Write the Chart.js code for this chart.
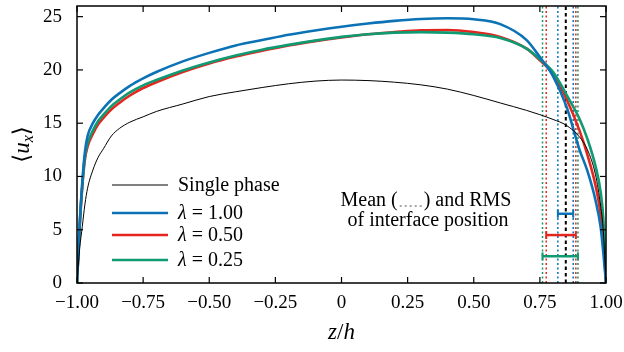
<!DOCTYPE html>
<html>
<head>
<meta charset="utf-8">
<script src="https://cdn.jsdelivr.net/npm/chart.js@4/dist/chart.umd.min.js"></script>
<style>
  body { margin: 0; background: #fff; }
  #wrap { width: 624px; height: 352px; }
</style>
</head>
<body>
<div id="wrap"><canvas id="myChart" width="624" height="352"></canvas></div>
<script>
// wall-normal positions z/h shared by all profiles
const zPos = [-1, -0.99, -0.98, -0.97, -0.96, -0.94, -0.92, -0.9, -0.87, -0.84, -0.8, -0.75,
  -0.7, -0.6, -0.5, -0.4, -0.3, -0.2, -0.1, 0, 0.1, 0.2, 0.3, 0.4, 0.5, 0.6, 0.7, 0.75,
  0.8, 0.85, 0.9, 0.93, 0.96, 0.98, 0.99, 1];

const singlePhase = [0, 3.2, 5.3, 7.4, 8.9, 10.6, 11.8, 12.6, 13.8, 14.5, 15.1, 15.6,
  16.1, 16.8, 17.5, 17.95, 18.35, 18.7, 18.95, 19.05, 19.0, 18.85, 18.6, 18.2, 17.6, 16.9, 16.2, 15.8,
  15.35, 14.8, 13.7, 12.5, 10.2, 7.2, 4.8, 0];
const lambda100 = [0, 5.5, 9.5, 12.3, 13.8, 15.0, 15.8, 16.4, 17.2, 17.8, 18.5, 19.2,
  19.8, 20.8, 21.6, 22.3, 22.8, 23.3, 23.7, 24.05, 24.35, 24.6, 24.78, 24.85, 24.75, 24.3, 22.8, 21.2,
  19.4, 16.6, 12.5, 10.5, 7.8, 5.2, 2.8, 0];
const lambda050 = [0, 5.2, 9.0, 11.6, 12.8, 14.0, 14.9, 15.5, 16.3, 16.9, 17.6, 18.3,
  18.85, 19.8, 20.6, 21.25, 21.8, 22.3, 22.7, 23.05, 23.35, 23.55, 23.72, 23.75, 23.55, 23.1, 22.0, 20.9,
  19.6, 17.3, 14.3, 12.0, 9.2, 6.4, 4.0, 0];
const lambda025 = [0, 5.3, 9.2, 11.9, 13.1, 14.3, 15.2, 15.8, 16.6, 17.2, 17.9, 18.55,
  19.05, 19.95, 20.7, 21.35, 21.9, 22.35, 22.75, 23.1, 23.35, 23.5, 23.55, 23.5, 23.35, 23.0, 22.0, 21.0,
  19.8, 17.7, 15.4, 13.5, 11.0, 8.5, 6.0, 0];

// interface position: mean and RMS band for each lambda (1.00, 0.50, 0.25)
const meanPos = 0.848;
const rmsLow = [0.818, 0.774, 0.760];
const rmsHigh = [0.876, 0.886, 0.894];
const rmsBarY = [6.5, 4.5, 2.5];

const xTickLabels = ["\u22121.00", "\u22120.75", "\u22120.50", "\u22120.25", "0", "0.25", "0.50", "0.75", "1.00"];
const yTickLabels = ["0", "5", "10", "15", "20", "25"];

const BLUE = "#0a72b5";
const RED = "#e4261f";
const GREEN = "#0f9a72";
const SERIF = "'Liberation Serif', 'DejaVu Serif', serif";

function curve(label, values, color, width, order) {
  return {
    label,
    data: zPos.map((z, i) => ({ x: z, y: values[i] })),
    borderColor: color,
    borderWidth: width,
    pointRadius: 0,
    cubicInterpolationMode: "monotone",
    fill: false,
    order,
  };
}

function vline(x, color, dash, width) {
  return {
    data: [{ x, y: 0 }, { x, y: 26 }],
    borderColor: color,
    borderWidth: width,
    borderDash: dash,
    pointRadius: 0,
    order: 20,
  };
}

function rmsBar(i, color) {
  return {
    data: [{ x: rmsLow[i], y: rmsBarY[i] }, { x: rmsHigh[i], y: rmsBarY[i] }],
    borderColor: color,
    borderWidth: 2.5,
    pointStyle: "line",
    rotation: 90,
    pointRadius: 4,
    pointBorderWidth: 2,
    pointBorderColor: color,
    order: 5,
  };
}

const colors = [BLUE, RED, GREEN];
const datasets = [
  curve("Single phase", singlePhase, "#000", 1, 1),
  curve("\u03bb = 1.00", lambda100, BLUE, 2.6, 2),
  curve("\u03bb = 0.25", lambda025, GREEN, 2.6, 3),
  curve("\u03bb = 0.50", lambda050, RED, 2.6, 4),
];
[2, 1, 0].forEach((i) => {
  datasets.push(vline(rmsLow[i], colors[i], [2, 2.5], 1.5));
  datasets.push(vline(rmsHigh[i], colors[i], [2, 2.5], 1.5));
});
datasets.push(vline(meanPos, "#000", [3.5, 3], 2));
colors.forEach((c, i) => datasets.push(rmsBar(i, c)));

function seg(ctx, x1, y1, x2, y2) {
  ctx.beginPath();
  ctx.moveTo(x1, y1);
  ctx.lineTo(x2, y2);
  ctx.stroke();
}

// draws pieces of text one after another, each with its own font
function runs(ctx, parts, x, y) {
  parts.forEach(([txt, font]) => {
    ctx.font = font;
    ctx.fillText(txt, x, y);
    x += ctx.measureText(txt).width;
  });
  return x;
}
function runsWidth(ctx, parts) {
  return parts.reduce((w, [txt, font]) => {
    ctx.font = font;
    return w + ctx.measureText(txt).width;
  }, 0);
}

const decorations = {
  id: "decorations",
  afterDraw(chart) {
    const { ctx, chartArea: a, scales } = chart;
    const x = scales.x;
    const y = scales.y;
    ctx.save();
    ctx.strokeStyle = "#000";
    ctx.fillStyle = "#000";

    // frame and inward ticks
    ctx.lineWidth = 1.5;
    ctx.strokeRect(a.left, a.top, a.right - a.left, a.bottom - a.top);
    ctx.lineWidth = 1.2;
    x.ticks.forEach((t) => {
      const px = x.getPixelForValue(t.value);
      seg(ctx, px, a.bottom, px, a.bottom - 6);
      seg(ctx, px, a.top, px, a.top + 6);
    });
    y.ticks.forEach((t) => {
      const py = y.getPixelForValue(t.value);
      seg(ctx, a.left, py, a.left + 6, py);
      seg(ctx, a.right, py, a.right - 6, py);
    });

    // axis titles
    const it22 = "italic 23px " + SERIF;
    const rm22 = "23px " + SERIF;
    ctx.textBaseline = "alphabetic";
    const xt = [["z", it22], ["/", rm22], ["h", it22]];
    const xc = (a.left + a.right) / 2;
    runs(ctx, xt, xc - runsWidth(ctx, xt) / 2, 339);

    ctx.save();
    ctx.translate(29, (a.top + a.bottom) / 2);
    ctx.rotate(-Math.PI / 2);
    const yt = [["\u27e8", rm22], ["u", it22], ["x", "italic 16px " + SERIF], ["\u27e9", rm22]];
    const w = runsWidth(ctx, yt);
    let cx = -w / 2;
    ctx.font = rm22; ctx.fillText("\u27e8", cx, 0); cx += ctx.measureText("\u27e8").width;
    ctx.font = it22; ctx.fillText("u", cx, 0); cx += ctx.measureText("u").width;
    ctx.font = "italic 16px " + SERIF; ctx.fillText("x", cx, 4); cx += ctx.measureText("x").width;
    ctx.font = rm22; ctx.fillText("\u27e9", cx, 0);
    ctx.restore();

    // legend
    const rm20 = "20px " + SERIF;
    const it20 = "italic 20px " + SERIF;
    const rows = [
      { color: "#000", width: 1, parts: [["Single phase", rm20]], y: 185 },
      { color: BLUE, width: 2.6, parts: [["\u03bb", it20], [" = 1.00", rm20]], y: 213 },
      { color: RED, width: 2.6, parts: [["\u03bb", it20], [" = 0.50", rm20]], y: 235 },
      { color: GREEN, width: 2.6, parts: [["\u03bb", it20], [" = 0.25", rm20]], y: 260 },
    ];
    ctx.textBaseline = "middle";
    rows.forEach((r) => {
      ctx.strokeStyle = r.color;
      ctx.lineWidth = r.width;
      seg(ctx, 112, r.y, 168, r.y);
      ctx.fillStyle = "#000";
      runs(ctx, r.parts, 178, r.y + 1);
    });

    // annotation
    ctx.font = rm20;
    const left = "Mean (";
    const right = ") and RMS";
    const gap = 26;
    const total = ctx.measureText(left).width + gap + ctx.measureText(right).width;
    let ax = 426 - total / 2;
    ctx.fillText(left, ax, 201);
    ax += ctx.measureText(left).width;
    ctx.strokeStyle = "#888";
    ctx.lineWidth = 1.5;
    ctx.setLineDash([2, 3]);
    seg(ctx, ax + 2, 206, ax + gap - 2, 206);
    ctx.setLineDash([]);
    ctx.fillText(right, ax + gap, 201);
    ctx.textAlign = "center";
    ctx.fillText("of interface position", 428, 221);
    ctx.restore();
  },
};

new Chart(document.getElementById("myChart"), {
  type: "line",
  data: { datasets },
  options: {
    responsive: false,
    animation: false,
    layout: { padding: { left: 0, right: 18, top: 6, bottom: 0 } },
    plugins: {
      legend: { display: false },
      tooltip: { enabled: false },
    },
    scales: {
      x: {
        type: "linear",
        min: -1,
        max: 1,
        border: { display: false },
        grid: { display: false, drawTicks: false },
        ticks: {
          stepSize: 0.25,
          padding: 9,
          color: "#000",
          maxRotation: 0,
          autoSkip: false,
          font: { family: SERIF, size: 19 },
          callback: (v, i) => xTickLabels[i],
        },
        afterFit: (s) => {
          s.height = 69;
          s.paddingLeft = 0;
          s.paddingRight = 0;
        },
      },
      y: {
        min: 0,
        max: 26,
        border: { display: false },
        grid: { display: false, drawTicks: false },
        ticks: {
          stepSize: 5,
          includeBounds: false,
          padding: 15,
          color: "#000",
          font: { family: SERIF, size: 19 },
          callback: (v, i) => yTickLabels[i],
        },
        afterFit: (s) => {
          s.width = 77;
          s.paddingTop = 0;
          s.paddingBottom = 0;
        },
      },
    },
  },
  plugins: [decorations],
});
</script>
</body>
</html>
